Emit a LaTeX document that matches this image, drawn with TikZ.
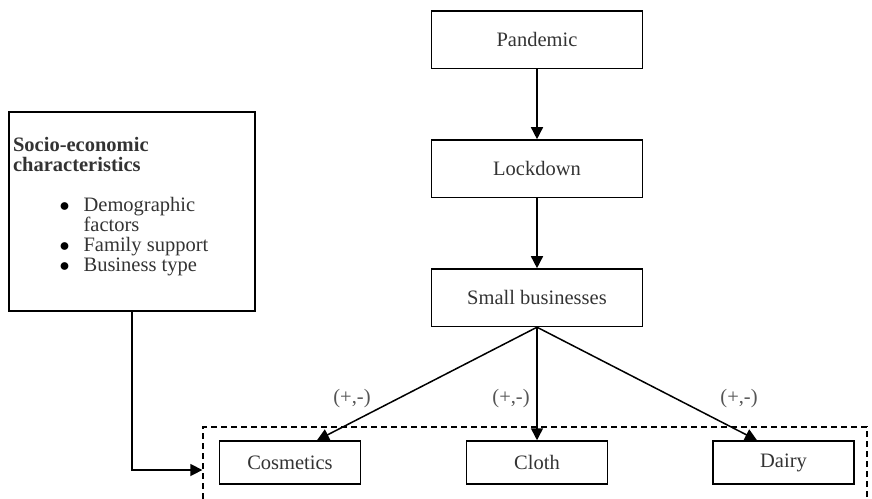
\documentclass[tikz,border=0pt]{standalone}
\usepackage{fontspec}
\setmainfont{Liberation Serif}
\usepackage{tikz}
\usetikzlibrary{arrows.meta,calc}

\definecolor{txtgray}{HTML}{333333}
\definecolor{lblgray}{HTML}{555555}

\newcommand{\bitem}[1]{\hspace*{23.25pt}\makebox[12pt][l]{\color{black}$\bullet$}#1}
\newcommand{\bcont}[1]{\hspace*{35.25pt}#1}

\begin{document}
\setlength{\lineskiplimit}{-20pt}
\begin{tikzpicture}[x=0.5pt,y=-0.5pt,
	>={Triangle[length=6pt,width=6pt]},
	every node/.style={font=\fontsize{10.25}{9.9}\selectfont, text=txtgray},
	bigbox/.style={draw,line width=0.75pt,minimum width=105.5pt,minimum height=28.75pt},
	sectorbox/.style={draw,line width=0.75pt,minimum width=70.5pt,minimum height=21.5pt},
	link/.style={->,line width=0.75pt},
	sign/.style={text=lblgray}]

	\useasboundingbox (0,0) rectangle (872,498);
	\clip (0,0) rectangle (872,498);

	\node [bigbox] (pandemic) at (537,39.5) {Pandemic};
	\node [bigbox] (lockdown) at (537,168.7) {Lockdown};
	\node [bigbox] (small) at (537,297.7) {Small businesses};

	% socio-economic box
	\node [draw,line width=0.75pt,minimum width=123pt,minimum height=99.5pt] (socio) at (132,211.5) {};
	\node [anchor=north west,inner sep=0pt,align=left] (sociotext) at (12.7,136.7)
	{\textbf{Socio-economic}\\ \textbf{characteristics}\\[10.5pt]
	 \bitem{Demographic}\\ \bcont{factors}\\ \bitem{Family support}\\ \bitem{Business type}};

	% sectors
	\node [draw,dashed,dash pattern=on 3pt off 2pt,line width=0.65pt,minimum width=332pt,minimum height=43pt] (sectors) at (535,470) {};
	\node [sectorbox] (cosmetics) at (290,462.5) {Cosmetics};
	\node [sectorbox] (cloth) at (537,462.5) {Cloth};
	\node [sectorbox] (dairy) at (783.5,462.5) {Dairy};

	\draw[link] (pandemic) -- (lockdown);
	\draw[link] (lockdown) -- (small);
	\draw[link] (small.south) -- ($(cosmetics.north)+(27,0)$);
	\draw[link] (small.south) -- (cloth.north);
	\draw[link] (small.south) -- ($(dairy.north)+(-26.5,0)$);
	\draw[link] (socio.south) |- (sectors.west);

	\node [sign] (signa) at (352,399) {(+,-)};
	\node [sign] (signb) at (511,399) {(+,-)};
	\node [sign] (signc) at (739,399) {(+,-)};

\end{tikzpicture}
\end{document}
